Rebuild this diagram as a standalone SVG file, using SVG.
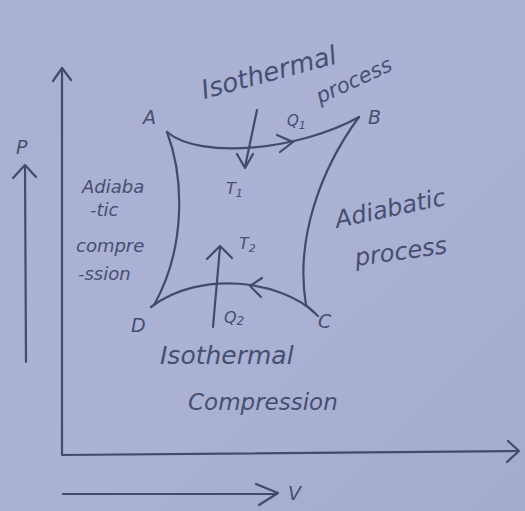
<svg xmlns="http://www.w3.org/2000/svg" width="525" height="511" viewBox="0 0 525 511">
<defs>
<linearGradient id="bg" x1="0" y1="0" x2="1" y2="1">
<stop offset="0" stop-color="#a9b0d3"/>
<stop offset="0.5" stop-color="#abb2d5"/>
<stop offset="1" stop-color="#a4abcd"/>
</linearGradient>
</defs>
<style>
.ink{fill:none;stroke:#434a6c;stroke-width:2.2;stroke-linecap:round;stroke-linejoin:round}
.t{fill:#474e70;font-family:"DejaVu Sans",sans-serif;font-style:italic}
.lab{font-size:19px}
.sm{font-size:18px}
</style>
<rect width="525" height="511" fill="url(#bg)"/>

<g id="connectors">
  <!-- axes -->
  <path class="ink" d="M62,70 L62,455 L518,451"/>
  <path class="ink" d="M53,81 L62,68 L71,80"/>
  <path class="ink" d="M508,441 L519,451 L507,462"/>
  <!-- P arrow -->
  <path class="ink" d="M26,362 L25,166"/>
  <path class="ink" d="M13,178 L25,165 L36,177"/>
  <!-- V arrow -->
  <path class="ink" d="M63,494 L276,494"/>
  <path class="ink" d="M256,484 L278,493 L259,505"/>
  <!-- cycle -->
  <path class="ink" d="M167,132 C200,160 300,150 359,117"/>
  <path class="ink" d="M277,135 L293,142 L280,152"/>
  <path class="ink" d="M359,117 C320,170 295,240 306,305 L318,316"/>
  <path class="ink" d="M315,313 C280,280 200,270 151,307"/>
  <path class="ink" d="M262,278 L250,286 L261,297"/>
  <path class="ink" d="M167,132 C185,180 185,250 154,305"/>
  <!-- heat arrows -->
  <path class="ink" d="M257,110 L245,167"/>
  <path class="ink" d="M237,154 L245,168 L253,154"/>
  <path class="ink" d="M213,327 L220,247"/>
  <path class="ink" d="M207,259 L220,246 L232,258"/>
</g>

<g id="labels">
  <text class="t lab" x="16" y="154">P</text>
  <text class="t lab" x="288" y="500">V</text>
  <text class="t lab" x="143" y="124">A</text>
  <text class="t lab" x="368" y="124">B</text>
  <text class="t lab" x="318" y="328">C</text>
  <text class="t lab" x="131" y="332">D</text>
  <text class="t" font-size="15" x="287" y="126">Q<tspan font-size="11" dy="3">1</tspan></text>
  <text class="t" font-size="16" x="226" y="194">T<tspan font-size="11" dy="3">1</tspan></text>
  <text class="t" font-size="16" x="239" y="249">T<tspan font-size="11" dy="3">2</tspan></text>
  <text class="t" font-size="16" x="224" y="323">Q<tspan font-size="12" dy="2">2</tspan></text>
</g>

<g id="isothermal-top">
  <text class="t" font-size="26" transform="translate(204,99) rotate(-15)">Isothermal</text>
  <text class="t" font-size="21" transform="translate(320,104) rotate(-25)">process</text>
</g>
<g id="adiabatic-right">
  <text class="t" font-size="24" transform="translate(337,228) rotate(-12)">Adiabatic</text>
  <text class="t" font-size="24" transform="translate(356,266) rotate(-8)">process</text>
</g>
<g id="adiabatic-left">
  <text class="t sm" x="82" y="193">Adiaba</text>
  <text class="t sm" x="90" y="216">-tic</text>
  <text class="t sm" x="76" y="252">compre</text>
  <text class="t sm" x="78" y="280">-ssion</text>
</g>
<g id="isothermal-bottom">
  <text class="t" font-size="25" x="160" y="364">Isothermal</text>
  <text class="t" font-size="23" x="188" y="410">Compression</text>
</g>
</svg>
